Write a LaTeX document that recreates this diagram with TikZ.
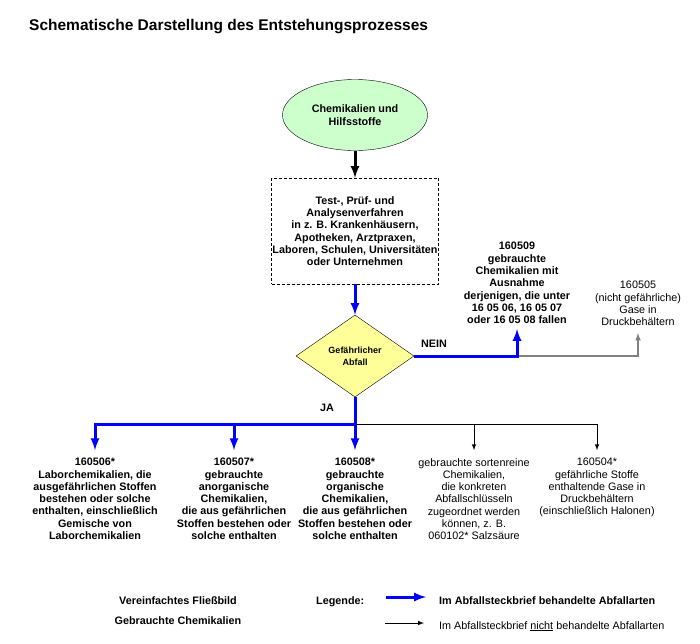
\documentclass[tikz,border=0pt]{standalone}
\usepackage{fontspec}
\setmainfont{Liberation Sans}
\usetikzlibrary{arrows,shapes.geometric}
\definecolor{chemgreen}{RGB}{204,255,204}
\definecolor{abfallgelb}{RGB}{255,255,153}

\begin{document}
\begin{tikzpicture}[x=1pt,y=-1pt,>=latex,
  txt/.style={align=center,inner sep=1pt,font=\fontsize{10.8}{12.3}\selectfont},
  btxt/.style={align=center,inner sep=1pt,font=\bfseries\fontsize{10.8}{12.3}\selectfont},
  behandelt/.style={draw=blue,line width=3pt,->},
  unbehandelt/.style={draw=black,line width=1pt,->},
  grau/.style={draw=gray,line width=1.5pt,->}]
  \useasboundingbox (0,0) rectangle (700,643);
  \node[anchor=base west,inner sep=0pt,font=\bfseries\fontsize{15.5}{18}\selectfont] (titel) at (29,30.6) {Schematische Darstellung des Entstehungsprozesses};
  \node[ellipse,draw,fill=chemgreen,minimum width=145,minimum height=71,btxt] (chem) at (355,115) {Chemikalien und\\Hilfsstoffe};
  \node[draw,dash pattern=on 3pt off 2pt,minimum width=167,minimum height=106,btxt,inner sep=0.5pt] (proc) at (355,231) {Test-, Prüf- und\\Analysenverfahren\\in z. B. Krankenhäusern,\\Apotheken, Arztpraxen,\\Laboren, Schulen, Universitäten\\oder Unternehmen};
  \node[diamond,draw,fill=abfallgelb,aspect=1.44,minimum width=118,minimum height=82,align=center,font=\bfseries\fontsize{9}{12}\selectfont] (gef) at (355,356) {Gefährlicher\\Abfall};
  \node[btxt,anchor=south] (c509) at (517,325) {160509\\gebrauchte\\Chemikalien mit\\Ausnahme\\derjenigen, die unter\\16 05 06, 16 05 07\\oder 16 05 08 fallen};
  \node[txt,anchor=south] (c505) at (638,327) {160505\\(nicht gefährliche)\\Gase in\\Druckbehältern};
  \node[btxt,anchor=base] (nein) at (434,347) {NEIN};
  \node[btxt,anchor=base] (ja) at (327,411) {JA};
  \node[btxt,anchor=north] (c506) at (95,457) {160506*\\Laborchemikalien, die\\ausgefährlichen Stoffen\\bestehen oder solche\\enthalten, einschließlich\\Gemische von\\Laborchemikalien};
  \node[btxt,anchor=north] (c507) at (234,457) {160507*\\gebrauchte\\anorganische\\Chemikalien,\\die aus gefährlichen\\Stoffen bestehen oder\\solche enthalten};
  \node[btxt,anchor=north] (c508) at (355,457) {160508*\\gebrauchte\\organische\\Chemikalien,\\die aus gefährlichen\\Stoffen bestehen oder\\solche enthalten};
  \node[txt,anchor=north] (csort) at (474,457) {gebrauchte sortenreine\\Chemikalien,\\die konkreten\\Abfallschlüsseln\\zugeordnet werden\\können, z. B.\\060102* Salzsäure};
  \node[txt,anchor=north] (c504) at (597,457) {160504*\\gefährliche Stoffe\\enthaltende Gase in\\Druckbehältern\\(einschließlich Halonen)};
  \coordinate (jn) at (517,356);
  \coordinate (jja) at (355,424);
  \draw[draw=black,line width=3pt,->] (chem) -- (proc);
  \draw[behandelt] (proc) -- (gef);
  \draw[grau,shorten >=6pt] (jn) -| (c505.south);
  \draw[behandelt,shorten >=4pt] (gef.east) -| (c509.south);
  \draw[unbehandelt,shorten >=6.8pt] (jja) -| (csort.north);
  \draw[unbehandelt,shorten >=6.8pt] (jja) -| (c504.north);
  \draw[behandelt,-] (gef.south) -- (jja);
  \draw[behandelt,shorten >=6.8pt] (jja) -| (c506.north);
  \draw[behandelt,shorten >=6.8pt] (jja) -| (c507.north);
  \draw[behandelt,shorten >=6.8pt] (jja) -- (c508.north);
  \node[btxt,anchor=base] (fliess) at (178,604) {Vereinfachtes Fließbild};
  \node[btxt,anchor=base] (gebraucht) at (178,624) {Gebrauchte Chemikalien};
  \node[btxt,anchor=base west] (legende) at (315,604.5) {Legende:};
  \node[btxt,anchor=base west] (lbeh) at (438,604) {Im Abfallsteckbrief behandelte Abfallarten};
  \node[txt,anchor=base west] (lnicht) at (438,629) {Im Abfallsteckbrief \underline{nicht} behandelte Abfallarten};
  \coordinate (lb1) at (386,597);
  \coordinate (lb2) at (426,597);
  \coordinate (ls1) at (385,623);
  \coordinate (ls2) at (424,623);
  \draw[behandelt] (lb1) -- (lb2);
  \draw[unbehandelt] (ls1) -- (ls2);
\end{tikzpicture}
\end{document}
